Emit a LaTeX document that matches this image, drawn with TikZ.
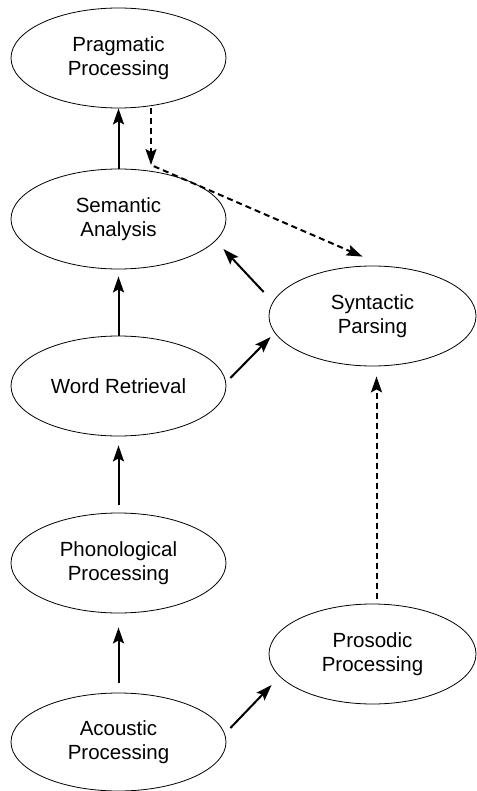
\documentclass[tikz,border=0pt]{standalone}
\usepackage{fontspec}
\setmainfont{Liberation Sans}
\usetikzlibrary{shapes.geometric,arrows.meta}

\tikzset{
	stage/.style={draw, ellipse, line width=0.8pt, minimum width=215pt, minimum height=100pt, inner sep=0pt, align=center, font=\fontsize{20.5}{24}\selectfont},
	sidestage/.style={stage, minimum width=207pt},
	arr/.style={line width=2pt, -{Stealth[length=16pt, width=11pt, inset=3pt]}},
	dasharr/.style={arr, dash pattern=on 6pt off 4pt}
}

\begin{document}
\begin{tikzpicture}[x=1pt, y=-1pt]
		\useasboundingbox (0,0) rectangle (476,791);

		\node[stage] (prag) at (118.5,58) {Pragmatic\\Processing};
		\node[stage] (sem) at (118.5,219) {Semantic\\Analysis};
		\node[stage] (word) at (118.5,386) {Word Retrieval};
		\node[stage] (phon) at (118.5,563) {Phonological\\Processing};
		\node[stage, minimum height=98pt] (acou) at (118.5,742) {Acoustic\\Processing};

		\node[sidestage] (syn) at (372.5,316) {Syntactic\\Parsing};
		\node[sidestage] (pros) at (372.5,654) {Prosodic\\Processing};

		\coordinate (bend) at (151,165);

		% left column, bottom to top
		\draw[arr, shorten <=10pt, shorten >=14pt] (acou) -- (phon);
		\draw[arr, shorten <=8pt, shorten >=9pt] (phon) -- (word);
		\draw[arr, shorten >=7pt] (word) -- (sem);
		\draw[arr] (sem) -- (prag);

		% across to the right column
		\draw[arr] ([xshift=4pt, yshift=14pt]acou.east) -- ([xshift=3pt, yshift=-31pt]pros.west);
		\draw[arr] ([xshift=4pt, yshift=8pt]word.east) -- ([xshift=2pt, yshift=-21pt]syn.west);
		\draw[arr] ([xshift=-5pt, yshift=24pt]syn.west) -- ([xshift=-3pt, yshift=-30pt]sem.east);

		% dashed links
		\draw[dasharr, shorten <=5pt, shorten >=10pt] ([xshift=4pt]pros.north) -- ([xshift=4pt]syn.south);
		\draw[dasharr] (bend |- prag.south) -- (bend);
		\draw[dasharr, shorten <=3pt] (bend) -- ([xshift=-10pt, yshift=9pt]syn.north);
	\end{tikzpicture}
\end{document}
